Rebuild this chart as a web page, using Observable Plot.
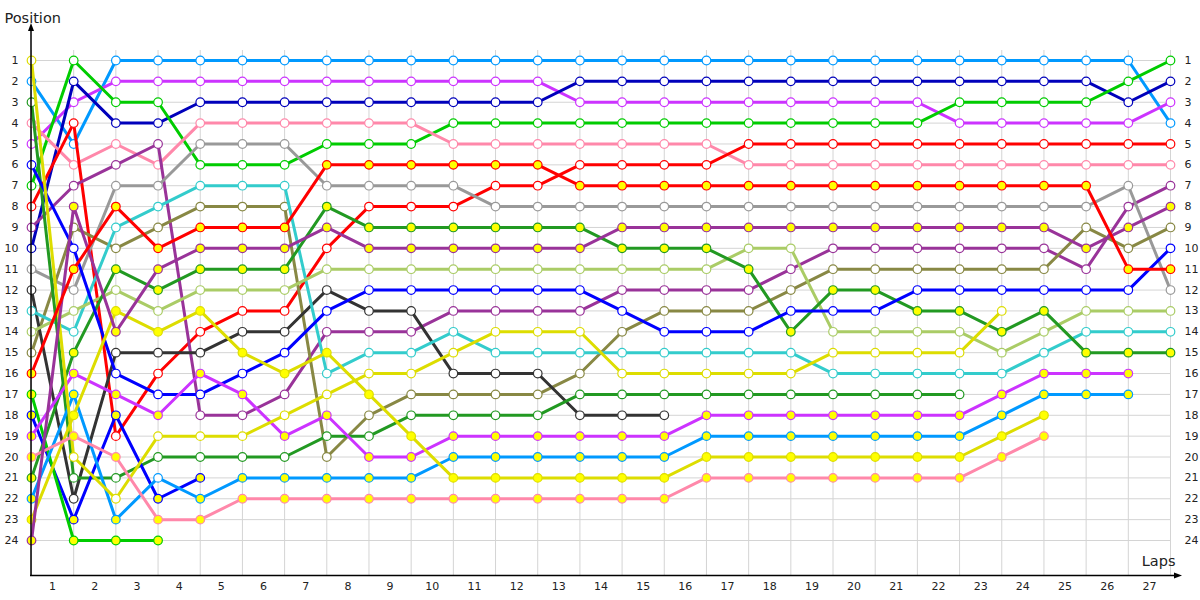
<!DOCTYPE html>
<html><head><meta charset="utf-8">
<script src="https://cdn.jsdelivr.net/npm/d3@7"></script>
<script src="https://cdn.jsdelivr.net/npm/@observablehq/plot@0.6"></script>
<style>body{margin:0;background:#fff;} #chart svg{display:block;}</style>
</head><body><div id="chart"></div>
<script>
// ---- data ----
const laps = d3.range(0, 28);          // lap 0 = start
const lapLabels = d3.range(1, 28);     // x labels 1..27
const positions = d3.range(1, 25);     // y labels 1..24

const drivers = ["LB","MAG","DB","GRN","PNK","REDW","PURW","GRY","OLV","BLK","CYN","LGR",
                 "DGW","DGY","BLU1","BLU2","GRN2","MAGY","LBY","YW","YY","PNKY","PURY","REDY"];
const driverColors = ["#0099ff","#cc33ff","#0000bb","#00cc00","#ff88aa","#ff0000","#993399","#999999",
                      "#888844","#333333","#33cccc","#aacc66","#229922","#229922","#0000ff","#0000ff",
                      "#00cc00","#cc33ff","#0099ff","#dddd00","#dddd00","#ff88aa","#993399","#ff0000"];
const yellowMarkers = ["DGY","BLU2","GRN2","MAGY","LBY","YY","PNKY","PURY","REDY"];
const whiteExceptions = [["LBY", 3]];

const pLB   = [2,5,1,1,1,1,1,1,1,1,1,1,1,1,1,1,1,1,1,1,1,1,1,1,1,1,1,4];
const pMAG  = [5,3,2,2,2,2,2,2,2,2,2,2,2,3,3,3,3,3,3,3,3,3,4,4,4,4,4,3];
const pDB   = [10,2,4,4,3,3,3,3,3,3,3,3,3,2,2,2,2,2,2,2,2,2,2,2,2,2,3,2];
const pGRN  = [7,1,3,3,6,6,6,5,5,5,4,4,4,4,4,4,4,4,4,4,4,4,3,3,3,3,2,1];
const pPNK  = [4,6,5,6,4,4,4,4,4,4,5,5,5,5,5,5,5,6,6,6,6,6,6,6,6,6,6,6];
const pREDW = [8,4,19,16,14,13,13,10,8,8,8,7,7,6,6,6,6,5,5,5,5,5,5,5,5,5,5,5];
const pPURW = [9,7,6,5,18,18,17,14,14,14,13,13,13,13,12,12,12,12,11,10,10,10,10,10,10,11,8,7];
const pGRY  = [11,12,7,7,5,5,5,7,7,7,7,8,8,8,8,8,8,8,8,8,8,8,8,8,8,8,7,12];
const pOLV  = [15,9,10,9,8,8,8,20,18,17,17,17,17,16,14,13,13,13,12,11,11,11,11,11,11,9,10,9];
const pBLK  = [12,22,15,15,15,14,14,12,13,13,16,16,16,18,18,18];
const pCYN  = [13,14,9,8,7,7,7,16,15,15,14,15,15,15,15,15,15,15,15,16,16,16,16,16,15,14,14,14];
const pLGR  = [14,13,12,13,12,12,12,11,11,11,11,11,11,11,11,11,11,10,10,14,14,14,14,15,14,13,13,13];
const pDGW  = [3,21,21,20,20,20,20,19,19,18,18,18,18,17,17,17,17,17,17,17,17,17,17];
const pDGY  = [21,15,11,12,11,11,11,8,9,9,9,9,9,9,10,10,10,11,14,12,12,13,13,14,13,15,15,15];
const pBLU1 = [6,10,16,17,17,16,15,13,12,12,12,12,12,12,13,14,14,14,13,13,13,12,12,12,12,12,12,10];
const pBLU2 = [18,23,18,22,21];
const pGRN2 = [17,24,24,24];
const pMAGY = [19,16,17,18,16,17,19,18,20,20,19,19,19,19,19,19,18,18,18,18,18,18,18,17,16,16,16];
const pLBY  = [22,17,23,21,22,21,21,21,21,21,20,20,20,20,20,20,19,19,19,19,19,19,19,18,17,17,17];
const pYW   = [1,20,22,19,19,19,18,17,16,16,15,14,14,14,16,16,16,16,16,15,15,15,15,13];
const pYY   = [23,18,13,14,13,15,16,15,17,19,21,21,21,21,21,21,20,20,20,20,20,20,20,19,18];
const pPNKY = [20,19,20,23,23,22,22,22,22,22,22,22,22,22,22,22,21,21,21,21,21,21,21,20,19];
const pPURY = [24,8,14,11,10,10,10,9,10,10,10,10,10,10,9,9,9,9,9,9,9,9,9,9,9,10,9,8];
const pREDY = [16,11,8,10,9,9,9,6,6,6,6,6,6,7,7,7,7,7,7,7,7,7,7,7,7,7,11,11];

const driverPositions = [pLB,pMAG,pDB,pGRN,pPNK,pREDW,pPURW,pGRY,pOLV,pBLK,pCYN,pLGR,
                         pDGW,pDGY,pBLU1,pBLU2,pGRN2,pMAGY,pLBY,pYW,pYY,pPNKY,pPURY,pREDY];

// ---- build table ----
const rows = [];
drivers.forEach((d, i) => {
  driverPositions[i].forEach((p, lap) => {
    let yellow = yellowMarkers.includes(d);
    if (whiteExceptions.some(([n, l]) => n === d && l === lap)) yellow = !yellow;
    rows.push({driver: d, lap, pos: p, color: driverColors[i], fill: yellow ? "#ffff00" : "#ffffff"});
  });
});

const seriesMarks = drivers.flatMap(d => {
  const data = rows.filter(r => r.driver === d);
  return [
    Plot.line(data, {x: "lap", y: "pos", stroke: "color", strokeWidth: 3, strokeLinejoin: "round"}),
    Plot.dot(data, {x: "lap", y: "pos", r: 4.3, fill: "fill", stroke: "color", strokeWidth: 1.2})
  ];
});

const chart = Plot.plot({
  width: 1200, height: 600,
  marginTop: 50, marginBottom: 25, marginLeft: 31, marginRight: 30,
  style: {fontFamily: "DejaVu Sans, sans-serif", fontSize: "11px", background: "#fff"},
  x: {domain: [0, 27], range: [31, 1170], axis: null},
  y: {domain: [1, 24], range: [60, 540], axis: null},
  color: {type: "identity"},
  marks: [
    Plot.ruleX(laps, {stroke: "#d4d4d4", strokeWidth: 1}),
    Plot.ruleY(positions, {stroke: "#d4d4d4", strokeWidth: 1}),
    Plot.axisY(positions, {anchor: "left", label: null, tickSize: 0, tickPadding: 13, fontSize: 11, fill: "#222"}),
    Plot.axisY(positions, {anchor: "right", label: null, tickSize: 0, tickPadding: 14, fontSize: 11, fill: "#222"}),
    Plot.text(lapLabels, {x: d => d - 0.5, frameAnchor: "bottom", dy: 14, fontSize: 11, fill: "#222"}),
    Plot.text(["Position"], {frameAnchor: "top-left", dx: -27, dy: -38, textAnchor: "start", fontSize: 14.5, fill: "#222"}),
    Plot.text(["Laps"], {frameAnchor: "bottom-right", dx: 5, dy: -10, textAnchor: "end", fontSize: 14.5, fill: "#222"}),
    ...seriesMarks
  ]
});

// axis lines with arrowheads
const svg = d3.select(chart);
const g = svg.append("g").attr("stroke", "#000").attr("fill", "#000");
g.append("line").attr("x1", 31).attr("x2", 31).attr("y1", 27).attr("y2", 576).attr("stroke-width", 1.5);
g.append("path").attr("d", "M31,23 L28,31 L34,31 Z").attr("stroke", "none");
g.append("line").attr("x1", 30).attr("x2", 1178).attr("y1", 575.5).attr("y2", 575.5).attr("stroke-width", 1.5);
g.append("path").attr("d", "M1182,575.5 L1174,572.5 L1174,578.5 Z").attr("stroke", "none");

document.getElementById("chart").appendChild(chart);
</script>
</body></html>
